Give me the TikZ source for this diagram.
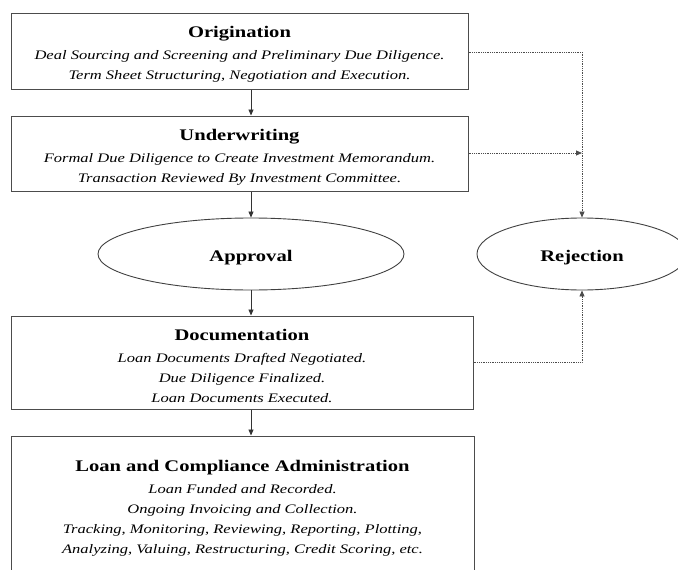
\documentclass[tikz,border=0pt]{standalone}
\usepackage{fontspec}
\setmainfont{Liberation Serif}[FakeStretch=1.27]
\usetikzlibrary{arrows.meta,shapes.geometric}
\newcommand{\titlestrut}{\rule{0pt}{18pt}}

\begin{document}
\begin{tikzpicture}[x=1pt,y=-1pt,
    stage_box/.style={rectangle,draw=black!70,line width=1pt,minimum width=457pt,inner sep=0pt,
        align=center,font=\fontsize{13}{20}\selectfont},
    phase_oval/.style={ellipse,draw=black!75,line width=0.9pt,inner sep=0pt,font=\bfseries\fontsize{16.2}{20}\selectfont},
    flow/.style={draw=black!80,line width=0.8pt,-{Triangle[length=6pt,width=5pt]}},
    back_flow/.style={draw=black!70,line width=0.8pt,densely dotted,-{Triangle[length=6pt,width=5pt]}}]
    \useasboundingbox (0,0) rectangle (678,570);
    % stages
	\node[stage_box,minimum height=76pt] (orig) at (239.5,51) {{\titlestrut\bfseries\fontsize{16.2}{20}\selectfont Origination}\\[2pt]
        \itshape Deal Sourcing and Screening and Preliminary Due Diligence.\\
        \itshape Term Sheet Structuring, Negotiation and Execution.};
    \node[stage_box,minimum height=75pt] (uw) at (239.5,153.5) {{\titlestrut\bfseries\fontsize{16.2}{20}\selectfont Underwriting}\\[2pt]
        \itshape Formal Due Diligence to Create Investment Memorandum.\\
        \itshape Transaction Reviewed By Investment Committee.};
    \node[phase_oval,minimum width=306pt,minimum height=72pt] (appr) at (251,254) {\titlestrut Approval};
    \node[phase_oval,minimum width=210pt,minimum height=72pt] (rej) at (582,254) {\titlestrut Rejection};
    \node[stage_box,minimum width=462pt,minimum height=93pt] (doc) at (242,362.5) {{\titlestrut\bfseries\fontsize{16.2}{20}\selectfont Documentation}\\[2pt]
        \itshape Loan Documents Drafted Negotiated.\\
        \itshape Due Diligence Finalized.\\
        \itshape Loan Documents Executed.};
    \node[stage_box,minimum width=463pt,minimum height=145pt] (lca) at (242.5,508.5) {{\bfseries\fontsize{16.2}{20}\selectfont Loan and Compliance Administration}\\[2pt]
        \itshape Loan Funded and Recorded.\\
        \itshape Ongoing Invoicing and Collection.\\
        \itshape Tracking, Monitoring, Reviewing, Reporting, Plotting,\\
        \itshape Analyzing, Valuing, Restructuring, Credit Scoring, etc.};
    \coordinate (uwjoin) at (rej.center |- 0,153);
    % main flow
    \draw[flow] (orig.south -| appr) -- (uw.north -| appr);
    \draw[flow] (uw.south -| appr) -- (appr.north);
    \draw[flow] (appr.south) -- (doc.north -| appr);
    \draw[flow] (doc.south -| appr) -- (lca.north -| appr);
    % rejection paths
    \draw[back_flow] (orig.east |- 0,52) -| (rej.north);
    \draw[back_flow] (uw.east |- uwjoin) -- (uwjoin);
    \draw[back_flow] (doc.east) -| (rej.south);
\end{tikzpicture}
\end{document}
